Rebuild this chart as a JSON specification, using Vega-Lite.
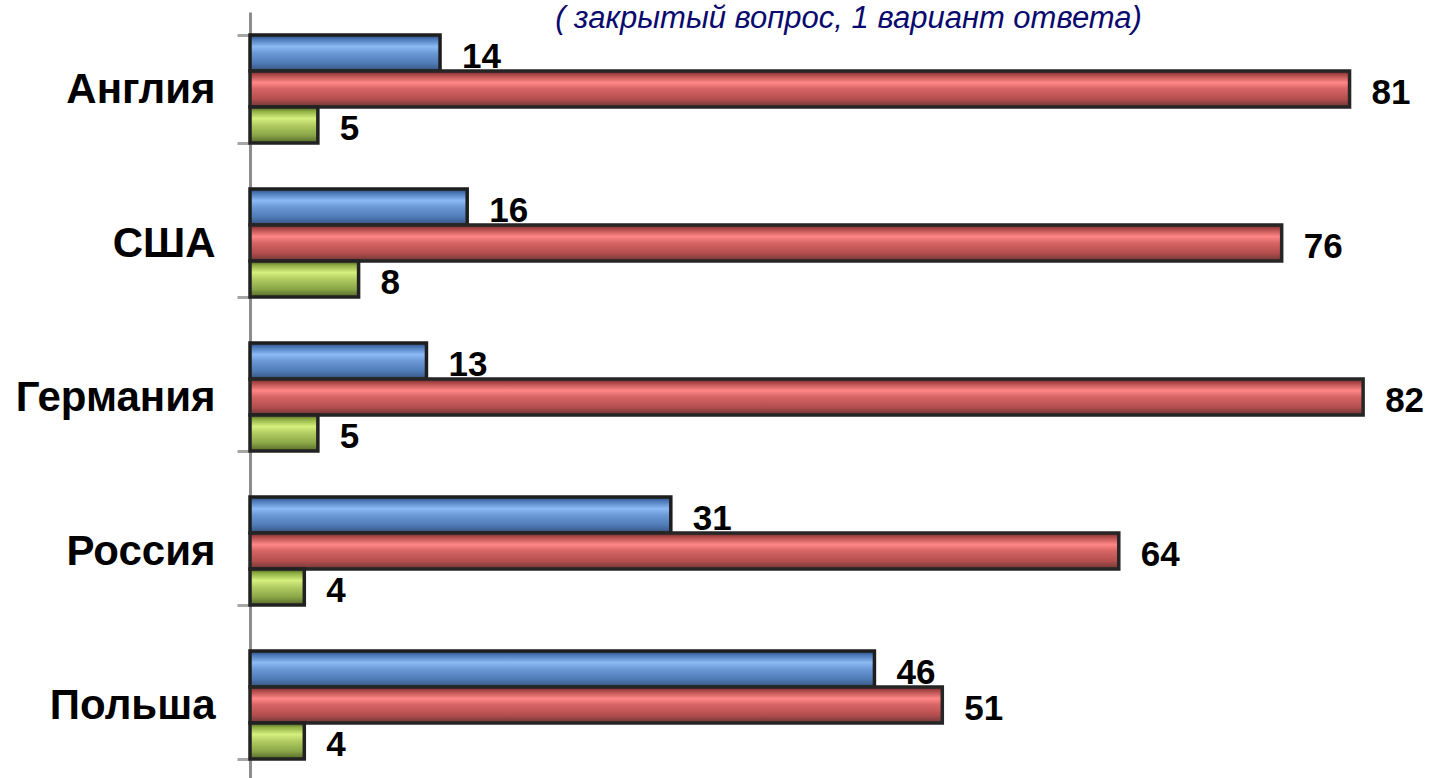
{
  "$schema": "https://vega.github.io/schema/vega-lite/v6.json",
  "autosize": "none",
  "width": 1181,
  "height": 770,
  "padding": {"left": 250, "top": 12, "right": 1, "bottom": 0},
  "background": "white",
  "config": {"view": {"stroke": null}, "font": "Liberation Sans"},
  "data": {
    "values": [
      {"country": "Англия", "series": "Серия 1", "value": 14},
      {"country": "Англия", "series": "Серия 2", "value": 81},
      {"country": "Англия", "series": "Серия 3", "value": 5},
      {"country": "США", "series": "Серия 1", "value": 16},
      {"country": "США", "series": "Серия 2", "value": 76},
      {"country": "США", "series": "Серия 3", "value": 8},
      {"country": "Германия", "series": "Серия 1", "value": 13},
      {"country": "Германия", "series": "Серия 2", "value": 82},
      {"country": "Германия", "series": "Серия 3", "value": 5},
      {"country": "Россия", "series": "Серия 1", "value": 31},
      {"country": "Россия", "series": "Серия 2", "value": 64},
      {"country": "Россия", "series": "Серия 3", "value": 4},
      {"country": "Польша", "series": "Серия 1", "value": 46},
      {"country": "Польша", "series": "Серия 2", "value": 51},
      {"country": "Польша", "series": "Серия 3", "value": 4}
    ]
  },
  "encoding": {
    "y": {
      "field": "country",
      "type": "nominal",
      "sort": ["Англия", "США", "Германия", "Россия", "Польша"],
      "scale": {"paddingInner": 0.3, "paddingOuter": 0.15},
      "axis": {
        "title": null,
        "domainColor": "#8c8c8c",
        "domainWidth": 3,
        "tickColor": "#a6a6a6",
        "tickWidth": 3,
        "tickSize": 13,
        "tickBand": "extent",
        "labelFontSize": 42,
        "labelFontWeight": "bold",
        "labelColor": "#000000",
        "labelPadding": 22,
        "labelLimit": 400,
        "labelFont": "Liberation Sans"
      }
    },
    "yOffset": {
      "field": "series",
      "type": "nominal",
      "scale": {"domain": ["Серия 1", "Серия 2", "Серия 3"], "paddingInner": 0, "paddingOuter": 0}
    },
    "x": {
      "field": "value",
      "type": "quantitative",
      "scale": {"domain": [0, 87], "nice": false},
      "axis": {
        "orient": "top",
        "domain": false,
        "ticks": false,
        "labels": false,
        "grid": false,
        "title": "( закрытый вопрос, 1 вариант ответа)",
        "titleFont": "Liberation Sans",
        "titleFontSize": 31,
        "titleFontStyle": "italic",
        "titleFontWeight": "normal",
        "titleColor": "#0a0a6e",
        "titleAlign": "center",
        "titleBaseline": "alphabetic",
        "titleAnchor": "start",
        "titleX": 598,
        "titleY": 15
      }
    }
  },
  "layer": [
    {
      "transform": [{"filter": "datum.series === 'Серия 1'"}],
      "mark": {
        "type": "bar",
        "stroke": "#1e1e1e",
        "strokeWidth": 3.5,
        "fill": {
          "gradient": "linear", "x1": 0, "y1": 0, "x2": 0, "y2": 1,
          "stops": [
            {"offset": 0, "color": "#2f4c78"},
            {"offset": 0.12, "color": "#4d7bbb"},
            {"offset": 0.32, "color": "#8bbaf4"},
            {"offset": 0.5, "color": "#6b99d6"},
            {"offset": 0.78, "color": "#4f7bb6"},
            {"offset": 1, "color": "#34527c"}
          ]
        }
      }
    },
    {
      "transform": [{"filter": "datum.series === 'Серия 2'"}],
      "mark": {
        "type": "bar",
        "stroke": "#262626",
        "strokeWidth": 3.5,
        "fill": {
          "gradient": "linear", "x1": 0, "y1": 0, "x2": 0, "y2": 1,
          "stops": [
            {"offset": 0, "color": "#6e2c2c"},
            {"offset": 0.12, "color": "#b44c4c"},
            {"offset": 0.32, "color": "#ff8686"},
            {"offset": 0.5, "color": "#d66464"},
            {"offset": 0.78, "color": "#b44e4e"},
            {"offset": 1, "color": "#6e3636"}
          ]
        }
      }
    },
    {
      "transform": [{"filter": "datum.series === 'Серия 3'"}],
      "mark": {
        "type": "bar",
        "stroke": "#222222",
        "strokeWidth": 3.5,
        "fill": {
          "gradient": "linear", "x1": 0, "y1": 0, "x2": 0, "y2": 1,
          "stops": [
            {"offset": 0, "color": "#4a5a22"},
            {"offset": 0.12, "color": "#8fae44"},
            {"offset": 0.32, "color": "#d6f07e"},
            {"offset": 0.5, "color": "#b2cd62"},
            {"offset": 0.78, "color": "#8aa748"},
            {"offset": 1, "color": "#55682c"}
          ]
        }
      }
    },
    {
      "mark": {
        "type": "text",
        "align": "left",
        "baseline": "middle",
        "dx": 22,
        "dy": 4,
        "fontSize": 35,
        "fontWeight": "bold",
        "color": "#000000",
        "font": "Liberation Sans"
      },
      "encoding": {
        "text": {"field": "value", "type": "quantitative"}
      }
    }
  ]
}
